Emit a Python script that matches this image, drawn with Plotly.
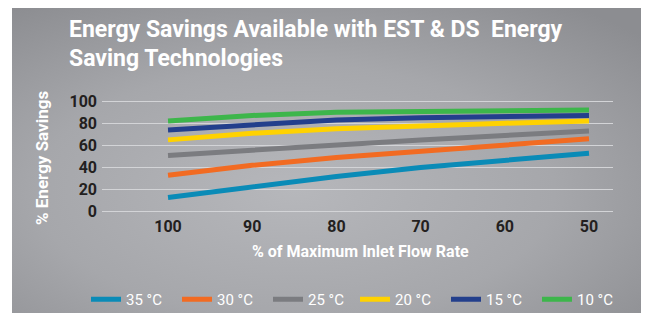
import plotly.graph_objects as go
import urllib.parse

# ---------------- data ----------------
flow_rate = [100, 90, 80, 70, 60, 50]
series_names = ["35 °C", "30 °C", "25 °C", "20 °C", "15 °C", "10 °C"]
s35 = [13, 23, 32, 40, 47, 53]
s30 = [33, 42, 49, 55, 61, 66]
s25 = [51, 56, 61, 65, 69, 73]
s20 = [65, 71, 75, 78, 80, 82]
s15 = [74, 79, 83, 85, 86, 87]
s10 = [82, 87, 90, 91, 91.5, 92]
y_ticks = [0, 20, 40, 60, 80, 100]
x_ticks = [100, 90, 80, 70, 60, 50]
title_lines = ["Energy Savings Available with EST &amp; DS &nbsp;Energy", "Saving Technologies"]

series_values = [s35, s30, s25, s20, s15, s10]
colors = ["#0a8bb7", "#f26b22", "#7b7c80", "#ffd200", "#233f8c", "#3db64b"]

W, H = 646, 313
ML, MR, MT, MB = 102, 33, 100, 100
PW = W - ML - MR
PH = H - MT - MB

fig = go.Figure()
for i, (name, vals, c) in enumerate(zip(series_names, series_values, colors)):
    fig.add_trace(go.Scatter(x=flow_rate, y=vals, name=name, mode="lines",
                             line=dict(color=c, width=5),
                             legend="legend" if i < 3 else "legend2"))

# gradient background panel as an SVG image
svg = ('<svg xmlns="http://www.w3.org/2000/svg" width="629" height="305" viewBox="0 0 629 305">'
       '<defs><radialGradient id="g" cx="0.45" cy="0.6" r="0.75">'
       '<stop offset="0" stop-color="#b6b7bb"/><stop offset="0.55" stop-color="#a6a7ab"/>'
       '<stop offset="1" stop-color="#8c8d91"/></radialGradient></defs>'
       '<rect width="629" height="305" fill="url(#g)"/></svg>')
src = "data:image/svg+xml;charset=utf-8," + urllib.parse.quote(svg)


def px2paper_x(px):
    return (px - ML) / PW


def py2paper_y(py):
    return (H - MB - py) / PH


fig.add_layout_image(dict(source=src, xref="paper", yref="paper",
                          x=px2paper_x(12), y=py2paper_y(8),
                          sizex=629 / PW, sizey=305 / PH,
                          xanchor="left", yanchor="top", sizing="stretch",
                          layer="below"))

tick_font = dict(family="Roboto", size=16, color="#231f20", weight="bold")
title_font = dict(family="Roboto", size=23, color="white", weight="bold")
axis_title_font = dict(family="Roboto", size=16, color="white", weight="bold")
legend_font = dict(family="Roboto", size=15, color="white")

annotations = [
    dict(text=title_lines[0], xref="paper", yref="paper", x=px2paper_x(67), y=py2paper_y(30),
         showarrow=False, font=title_font, xanchor="left", yanchor="middle"),
    dict(text=title_lines[1], xref="paper", yref="paper", x=px2paper_x(67), y=py2paper_y(58),
         showarrow=False, font=title_font, xanchor="left", yanchor="middle"),
    dict(text="% Energy Savings", xref="paper", yref="paper",
         x=px2paper_x(42), y=py2paper_y(158), textangle=-90, showarrow=False,
         font=dict(family="Roboto", size=17, color="white", weight="bold"),
         xanchor="center", yanchor="middle"),
    dict(text="% of Maximum Inlet Flow Rate", xref="paper", yref="paper",
         x=px2paper_x(360), y=py2paper_y(251), showarrow=False,
         font=axis_title_font, xanchor="center", yanchor="middle"),
]

legend_common = dict(orientation="h", xref="container", yref="container",
                     xanchor="left", y=1 - 283 / H, yanchor="top",
                     font=legend_font, entrywidth=46,
                     bgcolor="rgba(0,0,0,0)", itemwidth=30)

fig.update_layout(
    width=W, height=H,
    margin=dict(l=ML, r=MR, t=MT, b=MB),
    paper_bgcolor="white",
    plot_bgcolor="rgba(0,0,0,0)",
    xaxis=dict(range=[107.84, 47.15], tickvals=x_ticks, ticktext=[str(v) for v in x_ticks],
               showgrid=False, zeroline=False, showline=False, tickfont=tick_font,
               ticklabelstandoff=2),
    yaxis=dict(range=[-1, 101], tickvals=y_ticks, showgrid=True, gridcolor="#d3d4d7",
               gridwidth=1, zeroline=False, showline=False, tickfont=tick_font,
               ticklabelstandoff=4),
    showlegend=True,
    legend=dict(x=86 / W, **legend_common),
    legend2=dict(x=355 / W, **legend_common),
    annotations=annotations,
)

fig.write_html("out.html", config={"displayModeBar": False},
               post_script="document.body.style.margin='0px';")
